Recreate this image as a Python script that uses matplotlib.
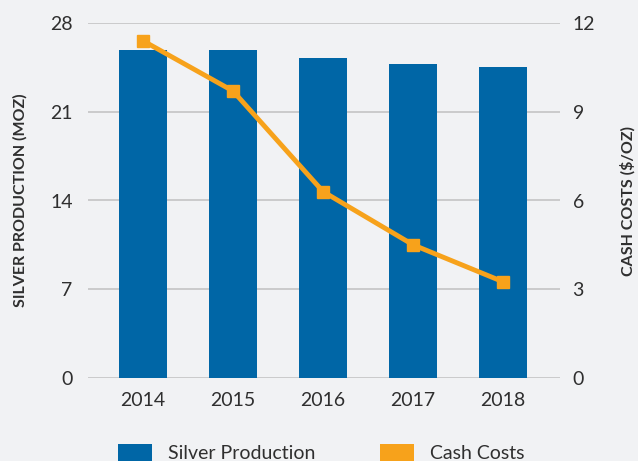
import matplotlib
matplotlib.use("Agg")
import matplotlib.pyplot as plt
from matplotlib.patches import Patch

years = ["2014", "2015", "2016", "2017", "2018"]
silver_production = [25.9, 25.9, 25.2, 24.8, 24.5]
cash_costs = [11.4, 9.7, 6.3, 4.5, 3.25]
left_ticks = [0, 7, 14, 21, 28]
right_ticks = [0, 3, 6, 9, 12]

BG = "#f1f2f4"
BLUE = "#0066a6"
ORANGE = "#f7a21b"
GRID = "#c4c4c4"
TXT = "#2f2f2f"

plt.rcParams['font.family'] = ['Lato', 'DejaVu Sans']

fig = plt.figure(figsize=(6.38, 4.61), dpi=100, facecolor=BG)
ax = fig.add_axes([88/638, 1-378/461, 472/638, 355/461])
ax.set_facecolor(BG)
x = list(range(len(years)))
ax.bar(x, silver_production, width=0.53, color=BLUE, zorder=2)
ax.set_ylim(0, 28)
ax.set_yticks(left_ticks)
ax.set_xlim(-0.61, 4.63)
ax.set_xticks(x)
ax.set_xticklabels(years)
ax.grid(axis='y', color=GRID, linewidth=1.2, zorder=0)
ax.set_axisbelow(True)
for s in ax.spines.values():
    s.set_visible(False)
ax.tick_params(axis='both', length=0, labelsize=14, labelcolor=TXT)
ax.tick_params(axis='y', pad=11)
ax.tick_params(axis='x', pad=10)
ax.set_ylabel("SILVER PRODUCTION (MOZ)", fontsize=11.5, fontweight='bold', color=TXT)
ax.yaxis.set_label_coords(-0.127, 0.5)

ax2 = ax.twinx()
ax2.plot(x, cash_costs, color=ORANGE, linewidth=3.5, marker='s', markersize=9, zorder=3)
ax2.set_ylim(0, 12)
ax2.set_yticks(right_ticks)
for s in ax2.spines.values():
    s.set_visible(False)
ax2.tick_params(axis='y', length=0, labelsize=14, labelcolor=TXT, pad=9)
ax2.set_ylabel("CASH COSTS ($/OZ)", fontsize=11.5, fontweight='bold', color=TXT,
               rotation=90)
ax2.yaxis.set_label_coords(1.128, 0.5)

handles = [Patch(facecolor=BLUE, label="Silver Production"),
           Patch(facecolor=ORANGE, label="Cash Costs")]
leg = fig.legend(handles=handles, loc='center left', bbox_to_anchor=(100/638, 1-453/461),
                 ncol=2, frameon=False, fontsize=14, handlelength=1.75, handleheight=1.0,
                 columnspacing=3.3, handletextpad=0.85, labelcolor=TXT)

fig.savefig("out.png", dpi=100, facecolor=BG)
